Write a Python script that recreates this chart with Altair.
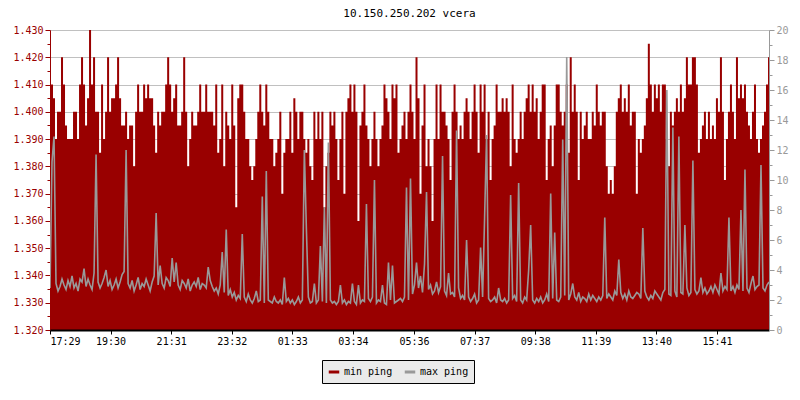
import altair as alt
import pandas as pd

title_text = "10.150.250.202 vcera"
step_minutes = 4

# min ping (ms), one sample every 4 minutes starting 17:29 (left axis)
min_ping = [
    1.405,1.410,1.405,1.390,1.400,1.400,1.420,1.410,1.395,1.390,1.390,1.390,1.400,1.400,1.390,1.410,1.420,1.410,1.395,1.405,
    1.430,1.410,1.420,1.400,1.400,1.385,1.410,1.390,1.400,1.420,1.400,1.405,1.405,1.410,1.420,1.405,1.395,1.395,1.400,1.390,
    1.395,1.395,1.380,1.400,1.410,1.400,1.400,1.410,1.405,1.410,1.405,1.405,1.395,1.385,1.400,1.395,1.400,1.400,1.410,1.420,
    1.410,1.400,1.405,1.410,1.395,1.395,1.400,1.420,1.400,1.380,1.390,1.400,1.395,1.395,1.400,1.410,1.400,1.400,1.410,1.400,
    1.400,1.400,1.395,1.410,1.385,1.390,1.410,1.380,1.400,1.395,1.390,1.410,1.395,1.365,1.405,1.410,1.410,1.400,1.390,1.390,
    1.380,1.375,1.380,1.390,1.400,1.410,1.400,1.395,1.410,1.400,1.390,1.390,1.380,1.385,1.390,1.400,1.370,1.385,1.390,1.390,
    1.400,1.385,1.405,1.400,1.390,1.400,1.400,1.390,1.385,1.390,1.380,1.375,1.400,1.390,1.400,1.390,1.400,1.365,1.380,1.385,
    1.400,1.395,1.400,1.390,1.375,1.390,1.400,1.370,1.400,1.405,1.410,1.400,1.410,1.400,1.360,1.395,1.400,1.410,1.395,1.390,
    1.380,1.390,1.400,1.390,1.380,1.390,1.395,1.410,1.405,1.400,1.390,1.410,1.405,1.410,1.385,1.390,1.395,1.400,1.390,1.400,
    1.410,1.400,1.390,1.420,1.405,1.370,1.395,1.410,1.380,1.390,1.380,1.360,1.390,1.410,1.390,1.410,1.400,1.400,1.395,1.390,
    1.375,1.400,1.410,1.400,1.390,1.395,1.390,1.400,1.405,1.400,1.390,1.400,1.410,1.400,1.385,1.410,1.400,1.410,1.390,1.400,
    1.375,1.390,1.395,1.410,1.400,1.400,1.405,1.400,1.405,1.400,1.380,1.410,1.390,1.385,1.390,1.400,1.390,1.400,1.405,1.410,
    1.400,1.410,1.400,1.405,1.390,1.400,1.410,1.410,1.375,1.390,1.395,1.380,1.395,1.410,1.410,1.400,1.395,1.400,1.410,1.385,
    1.420,1.400,1.410,1.400,1.375,1.400,1.390,1.395,1.400,1.390,1.390,1.400,1.395,1.410,1.400,1.395,1.400,1.400,1.380,1.370,
    1.375,1.370,1.380,1.400,1.405,1.410,1.400,1.405,1.400,1.410,1.395,1.400,1.400,1.370,1.390,1.385,1.390,1.395,1.405,1.425,
    1.410,1.400,1.410,1.405,1.410,1.400,1.410,1.410,1.390,1.380,1.400,1.395,1.400,1.405,1.400,1.410,1.400,1.405,1.420,1.410,
    1.410,1.420,1.420,1.410,1.385,1.390,1.395,1.400,1.390,1.400,1.390,1.395,1.390,1.405,1.400,1.420,1.400,1.375,1.390,1.400,
    1.410,1.400,1.390,1.420,1.405,1.410,1.405,1.410,1.400,1.395,1.390,1.400,1.410,1.390,1.385,1.390,1.395,1.400,1.410,1.420,
]

# max ping (ms), same sampling (right axis)
max_ping = [
    2.8,11.2,12.9,3.1,2.6,2.9,3.4,3.0,2.7,3.3,2.9,3.6,2.8,3.1,2.6,3.4,3.2,4.1,2.9,3.4,
    3.0,2.7,3.8,11.7,3.2,2.8,3.1,3.5,4.0,2.9,3.3,2.7,3.0,3.4,2.8,3.2,3.7,3.9,12.0,3.1,
    2.8,3.3,2.6,3.0,3.5,2.7,3.1,2.9,3.4,3.0,2.6,3.2,3.6,7.8,3.0,4.3,3.1,2.8,3.5,3.3,
    2.9,4.8,3.2,4.5,3.0,2.7,3.3,3.1,2.8,3.4,2.6,3.0,3.2,2.9,3.5,2.7,3.1,3.0,2.8,4.2,
    3.3,2.9,2.6,2.8,2.4,3.0,5.2,2.5,6.7,2.3,2.7,2.2,2.5,2.0,2.3,2.1,6.4,2.2,1.9,2.4,
    2.0,1.8,2.1,2.6,1.9,2.0,8.9,1.8,10.6,2.0,1.9,1.8,2.2,1.9,1.8,2.0,1.7,3.5,1.9,2.1,
    1.8,2.0,1.7,1.9,2.2,1.8,2.0,12.0,6.8,2.2,1.8,1.9,3.1,1.8,2.0,5.6,1.9,8.2,1.8,12.5,
    2.0,1.8,1.9,1.7,1.9,3.0,1.8,2.0,1.7,1.9,1.8,3.1,1.9,1.7,3.0,1.8,2.0,1.9,8.4,2.1,
    1.9,2.2,10.0,1.8,2.0,1.9,3.0,1.8,1.7,4.5,2.0,4.3,1.8,1.9,2.0,2.1,1.9,2.2,9.5,2.0,
    10.1,2.4,3.0,4.5,2.8,3.6,2.5,4.4,9.2,2.7,3.0,2.4,2.6,3.2,2.5,2.9,11.6,2.6,2.3,3.8,
    2.4,2.5,2.2,13.3,2.8,2.1,2.3,2.0,6.0,2.2,1.9,2.1,2.4,1.8,2.0,5.5,2.2,7.5,13.0,2.1,
    1.9,2.0,2.2,1.8,2.8,2.0,1.9,2.1,1.8,2.0,9.0,2.1,2.3,1.9,9.8,2.0,1.8,2.2,2.0,4.0,
    7.0,2.0,1.8,2.1,1.9,2.2,1.8,2.0,2.4,1.9,9.1,2.1,6.5,2.0,1.9,2.2,12.7,2.3,18.2,2.0,
    2.4,3.1,2.2,2.0,2.5,1.9,2.2,2.1,1.9,2.4,2.0,2.3,2.1,1.9,2.2,2.0,2.3,7.5,2.1,2.4,
    2.2,2.0,2.6,2.3,4.7,2.5,2.1,2.4,2.0,2.6,2.2,2.1,2.3,2.5,2.4,2.1,6.8,2.6,2.2,2.0,
    2.3,2.1,2.6,2.4,2.2,2.0,2.5,2.7,16.0,2.4,2.3,13.5,2.6,2.2,12.9,2.5,2.4,7.0,2.8,2.3,
    2.5,11.3,2.7,2.4,2.6,3.5,2.5,2.8,2.4,2.6,2.9,2.5,3.0,2.7,2.4,3.8,2.6,2.9,2.7,7.5,
    2.6,2.9,2.5,3.0,2.7,8.0,2.6,10.7,2.8,2.5,3.1,3.6,2.7,2.9,3.0,11.0,2.8,2.6,3.0,3.2,
]

tick_minutes = [0, 121, 242, 363, 484, 605, 727, 848, 969, 1090, 1211, 1332]
tick_labels = ["17:29", "19:30", "21:31", "23:32", "01:33", "03:34",
               "05:36", "07:37", "09:38", "11:39", "13:40", "15:41"]
series_names = ["min ping", "max ping"]
series_colors = ["#990000", "#999999"]

left_ticks = [round(1.320 + 0.005 * k, 3) for k in range(23)]
right_ticks = list(range(0, 21))

df = pd.DataFrame({
    "t": [i * step_minutes for i in range(len(min_ping))],
    "minp": min_ping,
    "maxp": max_ping,
})

FONT = "DejaVu Sans Mono"
x_label_expr = "".join(f"datum.value == {m} ? '{l}' : " for m, l in zip(tick_minutes, tick_labels)) + "''"

x_enc = alt.X(
    "t:Q",
    scale=alt.Scale(domain=[0, (len(min_ping) - 1) * step_minutes], nice=False, zero=False),
    axis=alt.Axis(values=tick_minutes, labelExpr=x_label_expr, grid=False, title=None,
                  domainColor="black", domainWidth=2, tickColor="black", tickSize=4,
                  labelPadding=2, labelFont=FONT, labelFontSize=10, labelColor="black",
                  zindex=1),
)

minor_left = "round(datum.value*1000) % 10 != 0"
area = alt.Chart(df).mark_area(interpolate="step", color="#990000", clip=True).encode(
    x=x_enc,
    y=alt.Y("minp:Q",
            scale=alt.Scale(domain=[1.320, 1.430], nice=False, zero=False),
            axis=alt.Axis(values=left_ticks, orient="left", title=None,
                          labelExpr=f"{minor_left} ? '' : format(datum.value, '.3f')",
                          labelFont=FONT, labelFontSize=10, labelColor="#990000",
                          labelPadding=2,
                          domainColor="#990000", tickColor="#990000",
                          tickSize={"condition": {"test": minor_left, "value": 3}, "value": 5},
                          gridColor="#C0C0C0",
                          gridOpacity={"condition": {"test": minor_left, "value": 0}, "value": 1})),
    y2=alt.datum(1.320),
)

minor_right = "datum.value % 2 != 0"
line = alt.Chart(df).transform_calculate(series="'max ping'").mark_line(
    interpolate="linear", strokeWidth=1.6, clip=True
).encode(
    x=x_enc,
    y=alt.Y("maxp:Q",
            scale=alt.Scale(domain=[0, 20], nice=False),
            axis=alt.Axis(values=right_ticks, orient="right", title=None, grid=False,
                          labelExpr=f"{minor_right} ? '' : datum.value",
                          labelFont=FONT, labelFontSize=10, labelColor="#999999",
                          labelPadding=2,
                          domainColor="#999999", tickColor="#999999",
                          tickSize={"condition": {"test": minor_right, "value": 3}, "value": 5},
                          zindex=1)),
    color=alt.Color("series:N",
                    scale=alt.Scale(domain=series_names, range=series_colors),
                    legend=alt.Legend(orient="none", legendX=272, legendY=330,
                                      direction="horizontal", title=None,
                                      symbolType="stroke", symbolStrokeWidth=3, symbolSize=110,
                                      labelFont=FONT, labelFontSize=10, labelColor="black",
                                      labelOffset=3,
                                      fillColor="#EAEAEA", strokeColor="black",
                                      padding=5, columnPadding=5, symbolOffset=0)),
)

chart = alt.layer(area, line).resolve_scale(y="independent").properties(
    width=719, height=300,
    title=alt.TitleParams(title_text, font=FONT, fontSize=11, fontWeight="normal",
                          color="black", anchor="middle", offset=6),
    padding={"left": 4, "top": 0, "right": 0, "bottom": 5},
).configure_view(stroke=None).configure(background="white")

chart.save("out.html", embed_options={"renderer": "svg", "actions": False})
